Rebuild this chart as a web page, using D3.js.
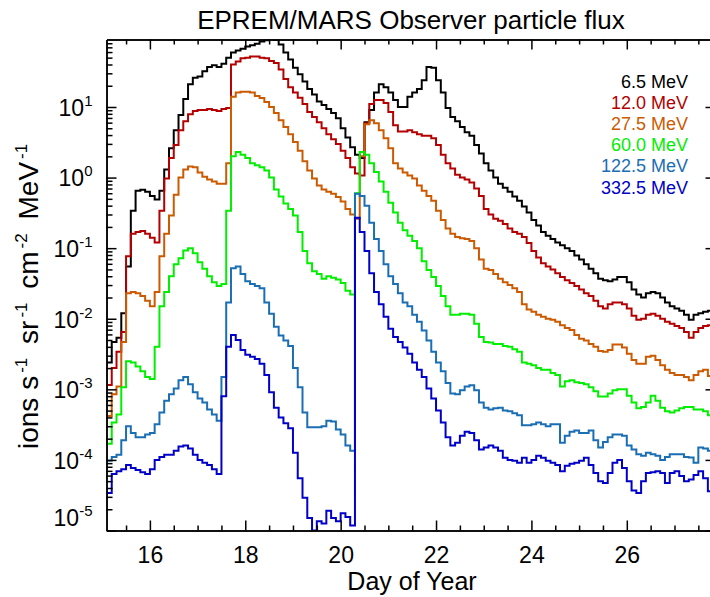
<!DOCTYPE html>
<html>
<head>
<meta charset="utf-8">
<script src="https://cdn.jsdelivr.net/npm/d3@7"></script>
<style>
  body { margin: 0; background: #fff; }
  svg text { font-family: "Liberation Sans", Arial, Helvetica, sans-serif; }
</style>
</head>
<body>
<div id="chart"></div>
<script>
// model output is sampled every 0.1 day, first sample at day 15.1
const startDay = 15.1;
const stepDays = 0.1;

const energies = ["6.5 MeV", "12.0 MeV", "27.5 MeV", "60.0 MeV", "122.5 MeV", "332.5 MeV"];
const colors = ["#000000", "#b40000", "#cc5a00", "#00ee00", "#1a6eb4", "#0000c8"];

const flux6_5 = [2.4e-3, 4.7e-3, 5.4e-3, 1.2e-2, 5.5e-2, 0.34, 0.65, 0.67, 0.63, 0.55,
  0.49, 0.65, 1.3, 2.6, 4.7, 7.7, 13, 21, 26, 27,
  32, 37, 39, 37, 41, 50, 59, 63, 67, 72,
  75, 79, 85, 88, 94, 90, 77, 59, 47, 36,
  29, 23, 18, 15, 12, 10.7, 9.4, 8.2, 6.9, 5,
  3.7, 2.7, 2.1, 1.9, 6.1, 9.1, 16, 21, 19, 16,
  12.6, 10, 10, 14, 16, 18, 24, 37, 36, 24,
  16, 9.7, 7.2, 6.3, 5.2, 4.4, 3.9, 2.9, 2.2, 1.6,
  1.26, 1.0, 0.82, 0.72, 0.63, 0.54, 0.47, 0.39, 0.32, 0.25,
  0.21, 0.17, 0.15, 0.135, 0.12, 0.11, 0.1, 0.091, 0.079, 0.069,
  0.059, 0.051, 0.044, 0.037, 0.035, 0.034, 0.036, 0.039, 0.039, 0.033,
  0.026, 0.022, 0.020, 0.023, 0.024, 0.023, 0.020, 0.017, 0.015, 0.014,
  0.013, 0.0114, 0.0097, 0.0114, 0.012, 0.0126, 0.013];

const flux12_0 = [1.15e-3, 2.0e-3, 3.4e-3, 6.5e-3, 7.7e-2, 0.16, 0.17, 0.175, 0.16, 0.14,
  0.12, 0.34, 0.97, 1.9, 2.9, 4.7, 6.3, 7.9, 8.8, 9.1,
  9.1, 9.4, 9.1, 8.8, 9.4, 9.7, 40, 44, 49, 50,
  52, 52, 50, 49, 45, 42, 34, 25, 19, 16,
  13.5, 11, 8.5, 7.2, 6.1, 5, 4.1, 3.5, 3.0, 2.4,
  1.9, 1.4, 1.14, 1.07, 5.9, 11, 12.6, 12.6, 11.4, 8.5,
  5.5, 4.5, 4.5, 4.7, 4.4, 4.1, 3.9, 3.9, 3.6, 2.9,
  2.1, 1.6, 1.35, 1.1, 1.0, 0.94, 0.85, 0.7, 0.55, 0.36,
  0.3, 0.26, 0.245, 0.22, 0.19, 0.17, 0.16, 0.144, 0.118, 0.091,
  0.074, 0.061, 0.055, 0.05, 0.044, 0.039, 0.035, 0.032, 0.029, 0.026,
  0.023, 0.021, 0.018, 0.015, 0.014, 0.016, 0.017, 0.017, 0.016, 0.014,
  0.011, 0.0097, 0.0100, 0.0114, 0.0118, 0.011, 0.0100, 0.0091, 0.0085, 0.0079,
  0.0074, 0.0065, 0.0054, 0.0065, 0.0074, 0.0079, 0.0081];

const flux27_5 = [4.2e-4, 8.5e-4, 1.1e-3, 4.7e-3, 0.023, 0.024, 0.023, 0.021, 0.018, 0.015,
  0.024, 0.077, 0.16, 0.29, 0.57, 1.0, 1.3, 1.43, 1.4, 1.18,
  1.03, 0.94, 0.88, 0.82, 0.82, 1.6, 14, 16, 16.5, 16.5,
  16, 14.3, 13.4, 11.8, 10, 8.2, 6.5, 5.2, 4.1, 3.2,
  2.4, 1.7, 1.26, 0.97, 0.77, 0.68, 0.63, 0.59, 0.53, 0.46,
  0.36, 0.30, 0.26, 2.0, 5.7, 6.5, 5.9, 4.7, 3.6, 2.6,
  1.6, 1.35, 1.18, 1.07, 0.97, 0.77, 0.65, 0.55, 0.47, 0.34,
  0.25, 0.19, 0.16, 0.144, 0.138, 0.135, 0.126, 0.1, 0.069, 0.051,
  0.049, 0.043, 0.037, 0.033, 0.030, 0.027, 0.024, 0.016, 0.0135, 0.0126,
  0.0114, 0.0107, 0.01, 0.0097, 0.0091, 0.0081, 0.0074, 0.0069, 0.0059, 0.0052,
  0.0049, 0.0044, 0.004, 0.0035, 0.0034, 0.0036, 0.0043, 0.0043, 0.0039, 0.0032,
  0.0026, 0.0023, 0.0023, 0.0029, 0.003, 0.0026, 0.0022, 0.0019, 0.0017, 0.0016,
  0.0016, 0.0015, 0.00135, 0.0016, 0.0018, 0.0019, 0.00155];

const flux60_0 = [1.7e-4, 3.4e-4, 4.4e-4, 1.07e-3, 2.5e-3, 2.4e-3, 2.1e-3, 1.8e-3, 1.5e-3, 1.4e-3,
  4e-3, 0.015, 0.024, 0.04, 0.059, 0.072, 0.093, 0.1, 0.085, 0.063,
  0.051, 0.04, 0.033, 0.029, 0.031, 0.34, 2.0, 2.3, 2.1, 1.9,
  1.6, 1.5, 1.4, 1.26, 1.0, 0.68, 0.54, 0.43, 0.36, 0.29,
  0.17, 0.091, 0.061, 0.047, 0.043, 0.037, 0.04, 0.038, 0.036, 0.032,
  0.025, 0.022, 0.6, 2.3, 2.1, 1.6, 1.2, 0.88, 0.63, 0.44,
  0.32, 0.23, 0.18, 0.15, 0.126, 0.1, 0.065, 0.049, 0.039, 0.029,
  0.021, 0.015, 0.0114, 0.0114, 0.0118, 0.0118, 0.0114, 0.0085, 0.0055, 0.0047,
  0.0046, 0.0044, 0.0044, 0.0041, 0.004, 0.0037, 0.0034, 0.0024, 0.0023, 0.0022,
  0.002, 0.0019, 0.0019, 0.0017, 0.0016, 0.0011, 0.0013, 0.00135, 0.00126, 0.00123,
  0.00118, 0.00107, 0.00094, 0.00079, 0.00079, 0.00087, 0.00097, 0.001, 0.001, 0.00081,
  0.00065, 0.00054, 0.00056, 0.00065, 0.00081, 0.00069, 0.00055, 0.00049, 0.00047, 0.0005,
  0.00054, 0.00056, 0.00056, 0.00052, 0.00052, 0.00049, 0.00043];

const flux122_5 = [9.7e-5, 1.1e-4, 1.18e-4, 1.9e-4, 3.0e-4, 2.4e-4, 2.1e-4, 2.1e-4, 2.3e-4, 2.4e-4,
  3.2e-4, 4.7e-4, 6.9e-4, 8.5e-4, 1.03e-3, 1.35e-3, 1.5e-3, 1.18e-3, 9.1e-4, 7.4e-4,
  6.5e-4, 5.2e-4, 4.4e-4, 3.6e-4, 1.5e-3, 0.017, 0.052, 0.055, 0.043, 0.034,
  0.031, 0.029, 0.027, 0.017, 0.0118, 0.0077, 0.0058, 0.0049, 0.0041, 0.002,
  0.00107, 4.7e-4, 2.9e-4, 2.9e-4, 2.9e-4, 3.0e-4, 3.6e-4, 3.5e-4, 2.7e-4, 2.3e-4,
  1.6e-4, 1.35e-4, 0.59, 0.55, 0.4, 0.23, 0.135, 0.091, 0.059, 0.04,
  0.031, 0.023, 0.017, 0.015, 0.0114, 0.0091, 0.0068, 0.0049, 0.0034, 0.0024,
  0.0018, 0.00123, 8.7e-4, 8.5e-4, 9.7e-4, 1.1e-3, 1.14e-3, 9.7e-4, 6.5e-4, 5.5e-4,
  5.2e-4, 5.4e-4, 5.5e-4, 5.0e-4, 4.9e-4, 4.6e-4, 4.3e-4, 3.1e-4, 3.1e-4, 3.2e-4,
  3.4e-4, 3.2e-4, 3.0e-4, 3.2e-4, 3.2e-4, 1.75e-4, 2.2e-4, 2.5e-4, 2.6e-4, 2.4e-4,
  2.4e-4, 2.6e-4, 1.9e-4, 1.5e-4, 1.8e-4, 2.1e-4, 2.3e-4, 2.3e-4, 2.2e-4, 1.6e-4,
  1.4e-4, 1.2e-4, 1.15e-4, 1.26e-4, 1.2e-4, 1.15e-4, 1.0e-4, 1.1e-4, 1.2e-4, 1.2e-4,
  1.2e-4, 1.1e-4, 1.08e-4, 9.1e-5, 1.5e-4, 1.45e-4, 1.35e-4];

const flux332_5 = [3.4e-5, 6.3e-5, 6.9e-5, 7.4e-5, 8.5e-5, 7.7e-5, 7.2e-5, 6.7e-5, 6.3e-5, 7.4e-5,
  1.0e-4, 1.1e-4, 1.18e-4, 1.18e-4, 1.35e-4, 1.55e-4, 1.6e-4, 1.45e-4, 1.18e-4, 1.0e-4,
  9.1e-5, 8.5e-5, 7.4e-5, 6.3e-5, 8e-4, 4.0e-3, 5.9e-3, 5.0e-3, 3.6e-3, 3.1e-3,
  2.9e-3, 2.7e-3, 2.3e-3, 1.6e-3, 9.1e-4, 5.5e-4, 4.0e-4, 3.3e-4, 2.8e-4, 1.26e-4,
  5.5e-5, 2.9e-5, 1.5e-5, 1.0e-5, 1.35e-5, 1.26e-5, 1.9e-5, 1.5e-5, 1.35e-5, 1.75e-5,
  1.55e-5, 1.18e-5, 0.27, 0.17, 0.091, 0.044, 0.024, 0.016, 0.0107, 0.0072,
  0.0055, 0.0047, 0.0039, 0.0032, 0.0024, 0.0019, 0.0015, 1.03e-3, 7.4e-4, 5.0e-4,
  3.4e-4, 2.1e-4, 1.6e-4, 1.75e-4, 2.2e-4, 2.5e-4, 2.4e-4, 1.9e-4, 1.4e-4, 1.5e-4,
  1.6e-4, 1.5e-4, 1.35e-4, 1.07e-4, 1.0e-4, 9.7e-5, 9.1e-5, 1.07e-4, 9.1e-5, 1.0e-4,
  1.15e-4, 1.07e-4, 9.7e-5, 9.1e-5, 8.5e-5, 6.9e-5, 8.3e-5, 8.8e-5, 9.1e-5, 9.7e-5,
  1.07e-4, 8.5e-5, 6.5e-5, 5.0e-5, 4.7e-5, 6.5e-5, 9.1e-5, 1.0e-4, 7.7e-5, 5.0e-5,
  3.7e-5, 3.4e-5, 5.0e-5, 6.5e-5, 6.7e-5, 6.9e-5, 6.5e-5, 4.7e-5, 6.5e-5, 6.9e-5,
  5.9e-5, 5.0e-5, 5.3e-5, 6.1e-5, 6.9e-5, 5.5e-5, 3.6e-5];

const xTicks = [16, 18, 20, 22, 24, 26];
const yTicks = [1e-5, 1e-4, 1e-3, 1e-2, 1e-1, 1, 10];
const yExponents = ["-5", "-4", "-3", "-2", "-1", "0", "1"];

const series = [flux6_5, flux12_0, flux27_5, flux60_0, flux122_5, flux332_5];

// ---- layout (plot frame in pixels)
const W = 710, H = 597;
const pLeft = 106.5, pRight = 715.5, pTop = 39.5, pBottom = 530.5;

const svg = d3.select("#chart").append("svg")
  .attr("width", W)
  .attr("height", H);

const x = d3.scaleLinear().domain([15.09, 27.86]).range([pLeft, pRight]);
const y = d3.scaleLog().domain([1e-5, 90.4]).range([pBottom, pTop]);

// minor ticks
const xMinor = [];
for (let d = 15.5; d < 27.9; d += 0.5) if (d % 2 !== 0) xMinor.push(d);
const yMinor = [];
for (let k = -5; k <= 1; k++) {
  for (let m = 2; m <= 9; m++) {
    const v = m * Math.pow(10, k);
    if (v < 90) yMinor.push(v);
  }
}

svg.append("defs").append("clipPath").attr("id", "plot")
  .append("rect")
  .attr("x", pLeft).attr("y", pTop)
  .attr("width", pRight - pLeft).attr("height", pBottom - pTop);

// curves
const line = d3.line()
  .x(d => x(d[0]))
  .y(d => y(d[1]))
  .curve(d3.curveStepAfter);

const curves = svg.append("g").attr("clip-path", "url(#plot)");
series.forEach((vals, k) => {
  const pts = vals.map((v, i) => [startDay + i * stepDays, v]);
  pts.push([startDay + vals.length * stepDays, vals[vals.length - 1]]);
  curves.append("path")
    .datum(pts)
    .attr("fill", "none")
    .attr("stroke", colors[k])
    .attr("stroke-width", 2)
    .attr("d", line);
});

// axes
function styleAxis(g) {
  g.selectAll("path.domain").attr("stroke", "#000").attr("stroke-width", 1.5);
  g.selectAll(".tick line").attr("stroke", "#000").attr("stroke-width", 1.5);
}

const gx = svg.append("g").attr("transform", `translate(0,${pBottom})`)
  .call(d3.axisBottom(x).tickValues(xTicks).tickSize(-10).tickSizeOuter(0).tickPadding(16));
gx.call(styleAxis);
gx.selectAll("text").attr("font-size", 23).attr("fill", "#000");
svg.append("g").attr("transform", `translate(0,${pBottom})`)
  .call(d3.axisBottom(x).tickValues(xMinor).tickSize(-5).tickSizeOuter(0).tickFormat(""))
  .call(styleAxis);

svg.append("g").attr("transform", `translate(0,${pTop})`)
  .call(d3.axisTop(x).tickValues(xTicks).tickSize(-10).tickSizeOuter(0).tickFormat(""))
  .call(styleAxis);
svg.append("g").attr("transform", `translate(0,${pTop})`)
  .call(d3.axisTop(x).tickValues(xMinor).tickSize(-5).tickSizeOuter(0).tickFormat(""))
  .call(styleAxis);

const gy = svg.append("g").attr("transform", `translate(${pLeft},0)`)
  .call(d3.axisLeft(y).tickValues(yTicks).tickSize(-10).tickSizeOuter(0).tickPadding(14));
gy.call(styleAxis);
gy.selectAll(".tick text")
  .attr("font-size", 23)
  .attr("fill", "#000")
  .attr("dy", (d, i) => i === 0 ? "-0.2em" : "0.36em")
  .each(function (d, i) {
    const t = d3.select(this).text(null);
    t.append("tspan").text("10");
    t.append("tspan").attr("dy", -10).attr("font-size", 15).text(yExponents[i]);
  });
svg.append("g").attr("transform", `translate(${pLeft},0)`)
  .call(d3.axisLeft(y).tickValues(yMinor).tickSize(-6).tickSizeOuter(0).tickFormat(""))
  .call(styleAxis);

// right axis: only the decade ticks reach into the visible area
svg.append("g").attr("transform", `translate(${pRight},0)`)
  .call(d3.axisRight(y).tickValues(yTicks).tickSize(-10).tickSizeOuter(0).tickFormat(""))
  .call(styleAxis);

// titles
svg.append("text")
  .attr("x", 411).attr("y", 29)
  .attr("text-anchor", "middle")
  .attr("font-size", 26)
  .text("EPREM/MARS Observer particle flux");

svg.append("text")
  .attr("x", 412).attr("y", 590)
  .attr("text-anchor", "middle")
  .attr("font-size", 25)
  .text("Day of Year");

const yt = svg.append("text")
  .attr("transform", "translate(38,449) rotate(-90)")
  .attr("text-anchor", "start")
  .attr("font-size", 28);
[["ions s", false], ["-1", true], [" sr", false], ["-1", true], [" cm", false], ["-2", true], [" MeV", false], ["-1", true]]
  .forEach(([s, sup], i) => {
    const ts = yt.append("tspan").text(s);
    if (sup) ts.attr("dy", -11).attr("dx", 3).attr("font-size", 17);
    else if (i > 0) ts.attr("dy", 11).attr("dx", 6);
  });

// legend
const legend = svg.append("g");
energies.forEach((e, i) => {
  legend.append("text")
    .attr("x", 688).attr("y", 88 + i * 21.1)
    .attr("text-anchor", "end")
    .attr("font-size", 18)
    .attr("fill", colors[i])
    .text(e);
});
</script>
</body>
</html>
